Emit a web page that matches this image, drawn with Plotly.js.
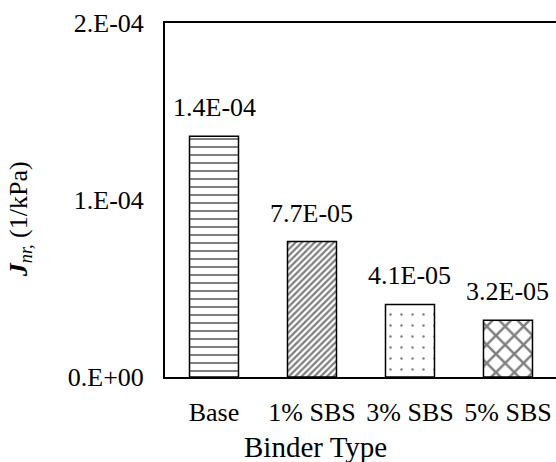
<!DOCTYPE html>
<html>
<head>
<meta charset="utf-8">
<script src="https://cdn.plot.ly/plotly-3.0.1.min.js"></script>
<style>html,body{margin:0;padding:0;background:#fff;overflow:hidden;}</style>
</head>
<body>
<div id="chart" style="width:556px;height:462px;"></div>
<script>
// Data
const categories = ['Base', '1% SBS', '3% SBS', '5% SBS'];
const jnrValues = [1.36e-4, 7.65e-5, 4.1e-5, 3.2e-5];
const valueLabels = ['1.4E-04', '7.7E-05', '4.1E-05', '3.2E-05'];
const yTickVals = [0, 1e-4, 2e-4];
const yTickText = ['0.E+00', '1.E-04', '2.E-04'];
const patternShapes = ['-', '/', '.', 'x'];
const patternSizes = [8, 4.5, 11, 13];
const patternSolidity = [0.25, 0.5, 0.04, 0.35];

const FONT = 'Liberation Serif, Times New Roman, serif';

const trace = {
  type: 'bar',
  x: categories,
  y: jnrValues,
  marker: {
    color: 'white',
    line: {color: 'black', width: 1.5},
    pattern: {
      shape: patternShapes,
      size: patternSizes,
      solidity: patternSolidity,
      fgcolor: 'black',
      bgcolor: 'white',
      fillmode: 'overlay'
    }
  },
  hoverinfo: 'none'
};

const annotations = categories.map((c, i) => ({
  x: c, y: jnrValues[i], xref: 'x', yref: 'y',
  text: valueLabels[i], showarrow: false,
  yanchor: 'bottom', yshift: 12,
  font: {family: FONT, size: 26, color: 'black'}
}));

annotations.push({
  xref: 'paper', yref: 'paper', x: 0.386, y: 0,
  xanchor: 'center', yanchor: 'middle', yshift: -70,
  text: 'Binder Type', showarrow: false,
  font: {family: FONT, size: 29, color: 'black'}
});
annotations.push({
  xref: 'paper', yref: 'paper', x: -0.3708, y: 0.446,
  xanchor: 'center', yanchor: 'middle', textangle: -90,
  text: '<b><i>J</i></b><sub><i>nr,</i></sub> (1/kPa)', showarrow: false,
  font: {family: FONT, size: 26, color: 'black'}
});

const layout = {
  width: 556, height: 462,
  margin: {l: 165, r: 0, t: 23, b: 85, pad: 0},
  paper_bgcolor: 'white', plot_bgcolor: 'white',
  showlegend: false,
  bargap: 0.5,
  font: {family: FONT, size: 26, color: 'black'},
  xaxis: {
    type: 'category',
    range: [-0.5, 3.49],
    showline: true, linecolor: 'black', linewidth: 2, mirror: true,
    showgrid: false, zeroline: false,
    ticks: 'outside', ticklen: 11, tickcolor: 'rgba(0,0,0,0)',
    tickfont: {family: FONT, size: 26, color: 'black'}
  },
  yaxis: {
    range: [0, 2e-4],
    tickvals: yTickVals, ticktext: yTickText,
    showline: true, linecolor: 'black', linewidth: 2,
    showgrid: false, zeroline: false,
    ticks: 'outside', ticklen: 14, tickcolor: 'rgba(0,0,0,0)',
    tickfont: {family: FONT, size: 26, color: 'black'}
  },
  annotations: annotations
};

Plotly.newPlot('chart', [trace], layout, {staticPlot: true, displayModeBar: false});
</script>
</body>
</html>
